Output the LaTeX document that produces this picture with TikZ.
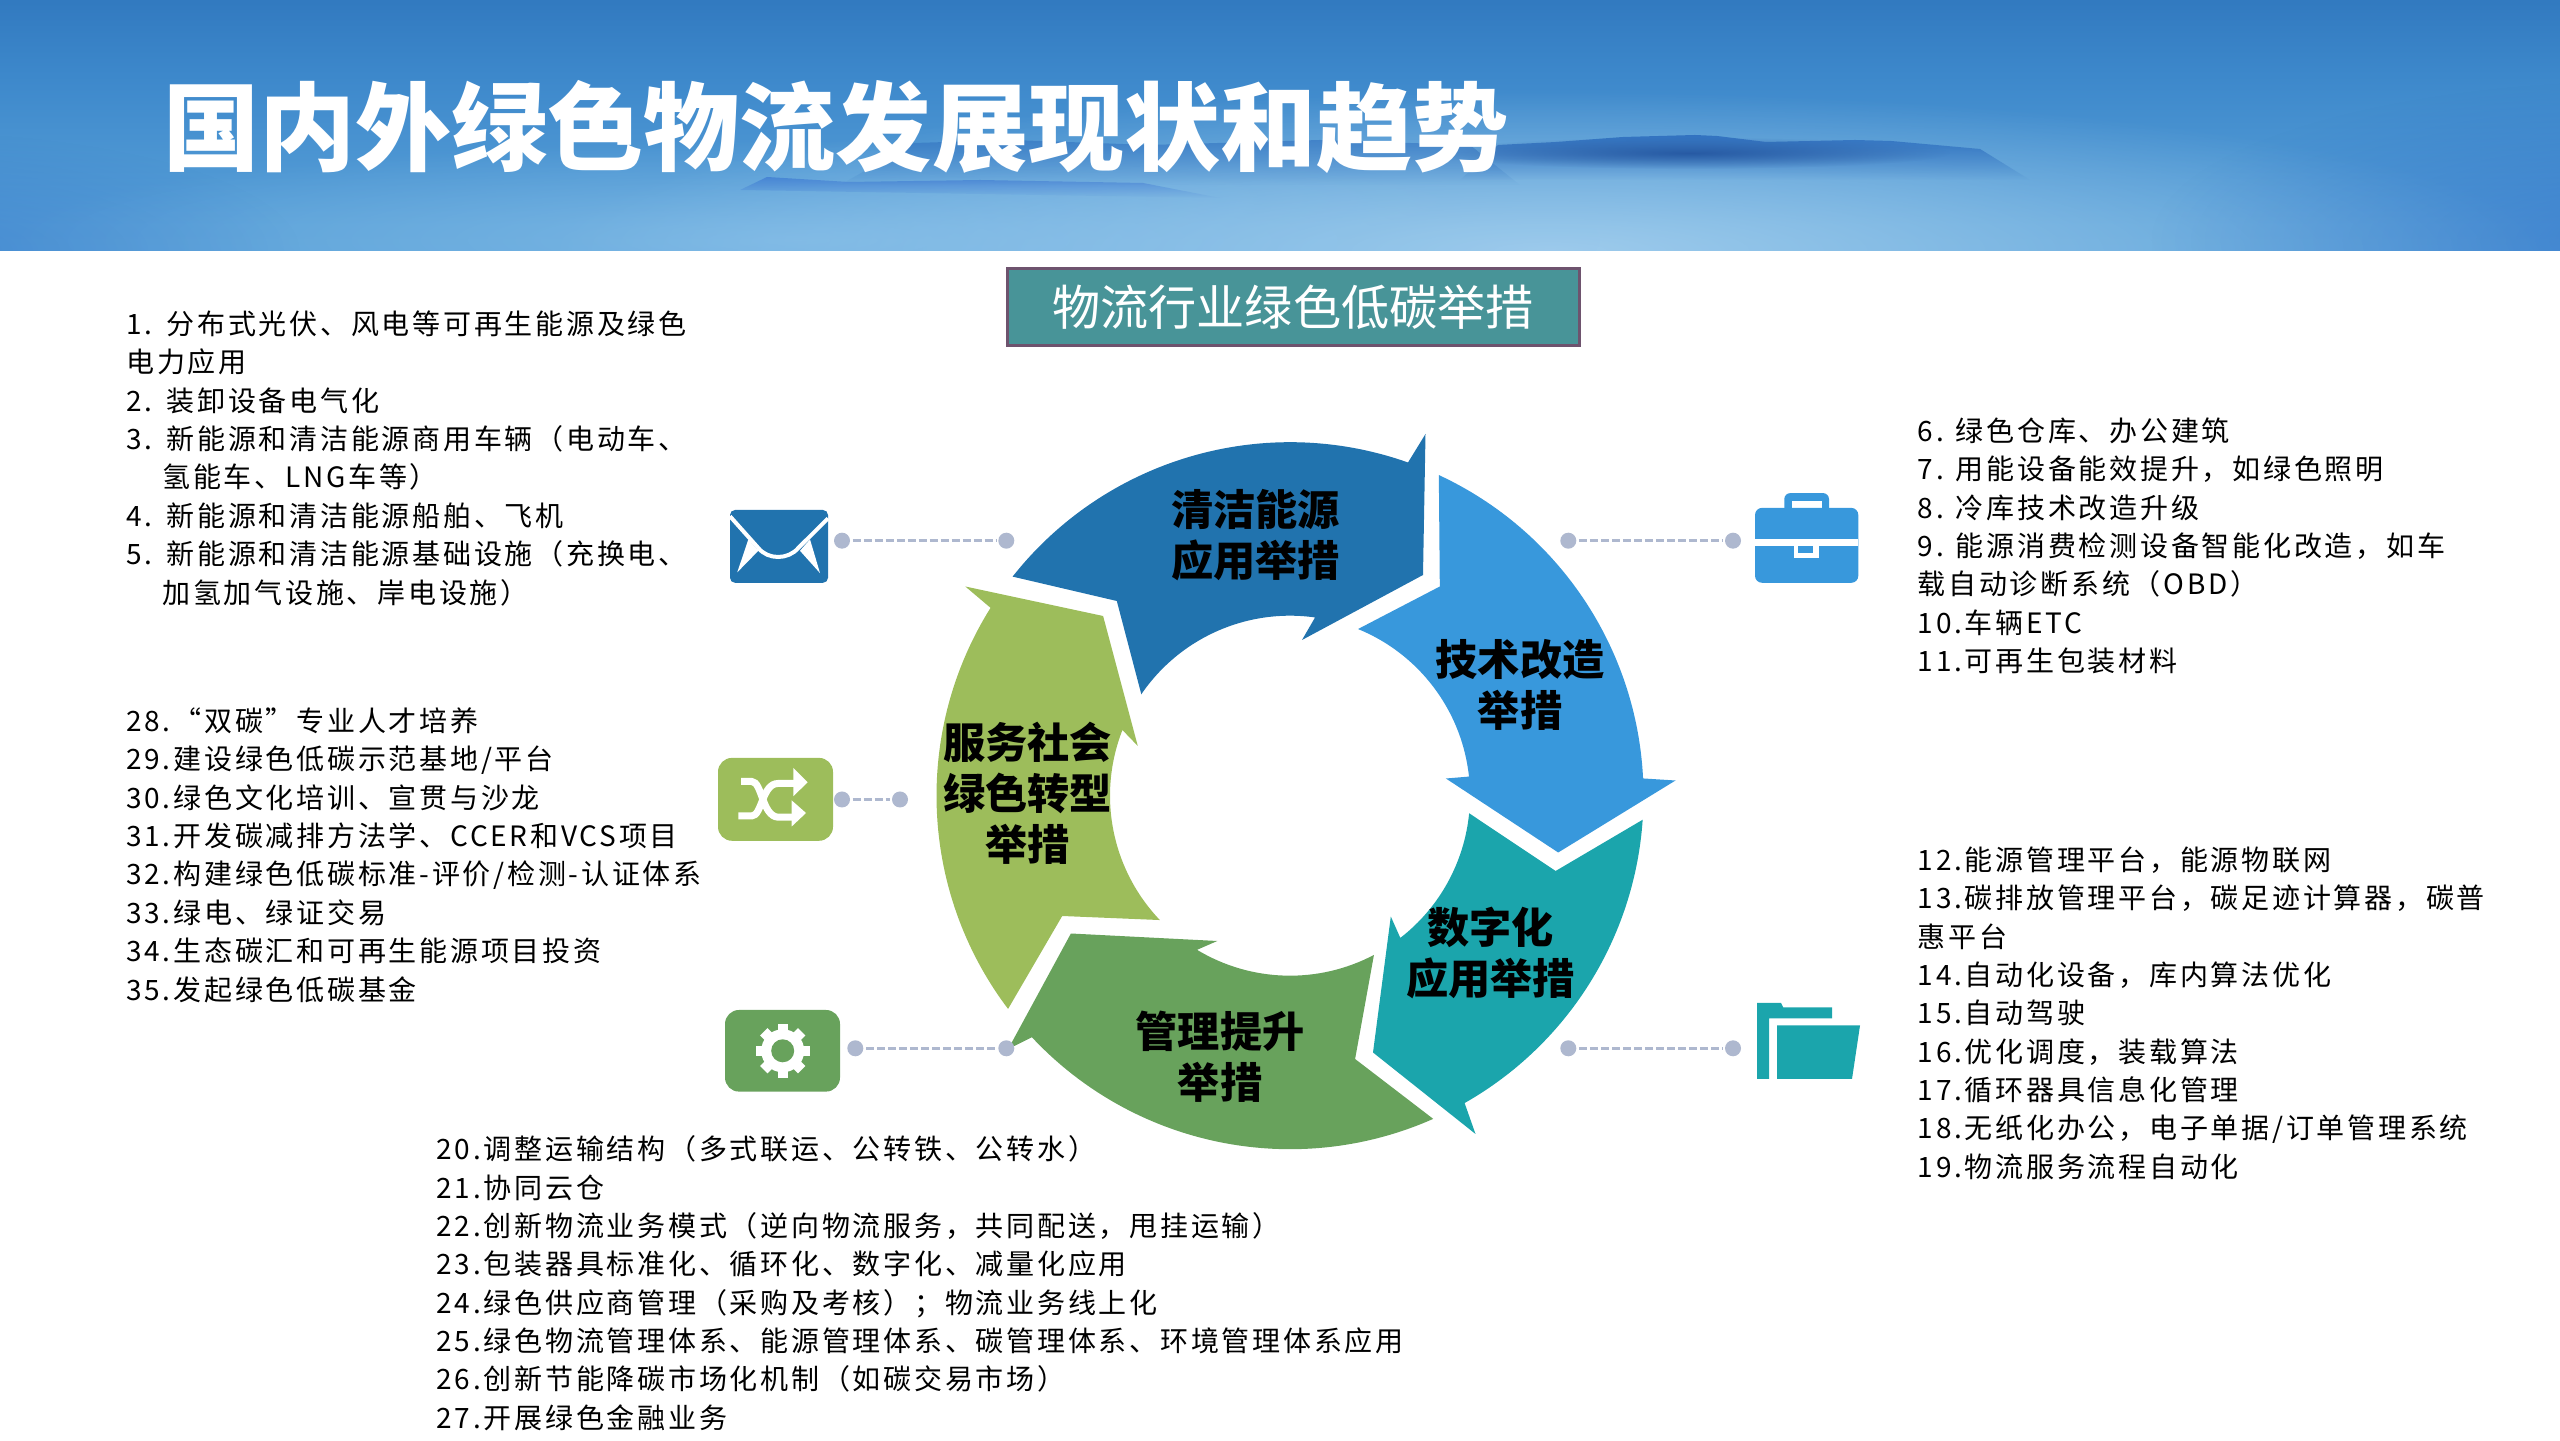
\documentclass[tikz,border=0pt]{standalone}
\usepackage{fontspec}
\setmainfont{Noto Sans CJK SC}
\newfontfamily\listfam[LetterSpace=9.8]{Noto Sans CJK SC}
\usetikzlibrary{calc,fadings}
\definecolor{ringdeep}{HTML}{2173AE}
\definecolor{ringsky}{HTML}{3898DC}
\definecolor{ringteal}{HTML}{1BA5AC}
\definecolor{ringmoss}{HTML}{68A25C}
\definecolor{ringlime}{HTML}{9DBD5B}
\definecolor{dotgrey}{HTML}{AEB8CF}
\definecolor{ba0}{HTML}{1B5AA9}
\definecolor{ba1}{HTML}{2A70B8}
\definecolor{ba2}{HTML}{3D88CB}
\definecolor{ba3}{HTML}{58A0D8}
\definecolor{ba4}{HTML}{5FA6DC}
\definecolor{hillblue}{HTML}{3070BF}
\definecolor{hillcore}{HTML}{1F4F9A}
\pgfdeclareverticalshading{bandsky}{100bp}{
	color(0bp)=(ba4); color(30bp)=(ba3); color(60bp)=(ba2); color(85bp)=(ba1); color(100bp)=(ba0)}
\tikzfading[name=softblob, inner color=transparent!0, outer color=transparent!100]
\tikzset{
	listblock/.style={align=left, inner sep=0pt, anchor=north west, text=black, font=\listfam\fontsize{7.97}{10.92}\selectfont},
	ringlabel/.style={align=center, inner sep=0pt, text=black, font=\bfseries\fontsize{12}{14.5}\selectfont},
	linkdot/.style={circle, fill=dotgrey, inner sep=0pt, minimum size=0.16cm, outer sep=0.025cm},
	linkdash/.style={draw=dotgrey, line width=0.28mm, dash pattern=on 0.085cm off 0.025cm},
}
\def\hangline{\hspace*{0.36cm}}
\def\numgap{\hspace*{0.05cm}\ }

\begin{document}
\begin{tikzpicture}
	\useasboundingbox (0, 0) rectangle (25.6, 14.4);
	%%%%% BANNER %%%%%

	\begin{scope}
		\clip (0, 11.89) rectangle (25.6, 14.4);
		\shade[shading=bandsky] (0, 11.89) rectangle (25.6, 14.4);
		\fill[color=white!60!ringsky, opacity=0.8, path fading=softblob] (15.5, 11.89) ellipse (10 and 1.6);
		\fill[color=white!45!ringsky, opacity=0.6, path fading=softblob] (8, 12) ellipse (8 and 1.0);
		\fill[color=ringdeep!75!blue, opacity=0.4, path fading=softblob] (26.5, 12) ellipse (5 and 1.6);
		\fill[color=ringdeep!75!blue, opacity=0.3, path fading=softblob] (-1, 11.89) ellipse (4 and 1.2);
		\fill[color=hillblue, opacity=0.6, path fading=south] (8.4, 12.55) -- (9.14, 12.97) -- (10.12, 13) -- (11.5, 12.95) -- (13.2, 13) -- (14.7, 12.95) -- (15.2, 12.55) -- cycle;
		\fill[color=hillblue, opacity=0.95, path fading=south] (14.6, 12.6) -- (14.98, 12.95) -- (15.56, 12.98) -- (16.23, 13.03) -- (16.95, 13.05) -- (17.17, 13.04) -- (17.66, 12.98) -- (18.55, 13) -- (18.91, 12.99) -- (19.8, 12.91) -- (20.3, 12.6) -- cycle;
		\fill[color=hillcore, opacity=0.8, path fading=softblob] (16.9, 12.87) ellipse (2.6 and 0.16);
		\fill[color=blue!35!ringdeep, opacity=0.35, path fading=south] (7.4, 12.5) -- (7.67, 12.63) -- (8.49, 12.58) -- (9.8, 12.6) -- (11.43, 12.57) -- (12.2, 12.42) -- cycle;
	\end{scope}

	\node[inner sep=0pt, text=white, font=\bfseries\fontsize{27.35}{30}\selectfont] (pagetitle) at (8.36, 13.13) {国内外绿色物流发展现状和趋势};
	\node[draw=black!40!violet!35!gray, line width=0.3mm, fill=ringteal!55!gray, minimum width=5.72cm, minimum height=0.77cm, inner sep=0pt, text=white, font=\fontsize{13.7}{16}\selectfont] (headline) at (12.93, 11.33) {物流行业绿色低碳举措};

	%%%%% RING %%%%%

	\coordinate (hub) at (12.9, 6.443);

	\fill[ringdeep] ($(hub)+(141.7:3.535)$) arc (141.7:70.5:3.535) -- (14.255, 10.06) -- (14.23, 8.65) -- (13.02, 8) -- ($(hub)+(82:1.8)$) arc (82:145.7:1.8) -- (11.168, 8.39) -- cycle;
	\fill[ringsky] ($(hub)+(65.1:3.535)$) arc (65.1:2.8:3.535) -- (16.755, 6.595) -- (15.582, 5.875) -- (14.459, 6.615) -- ($(hub)+(6.1:1.8)$) arc (6.1:67.8:1.8) -- (14.398, 8.535) -- cycle;
	\fill[ringteal] ($(hub)+(-5.6:1.8)$) -- (15.556, 5.69) -- ($(hub)+(-3.9:3.535)$) arc (-3.9:-60.4:3.535) -- (14.755, 3.06) -- (13.73, 3.875) -- (13.908, 5.235) -- ($(hub)+(-52.2:1.8)$) arc (-52.2:-5.6:1.8) -- cycle;
	\fill[ringmoss] ($(hub)+(-62.2:1.8)$) -- (13.551, 3.81) -- ($(hub)+(-66.1:3.535)$) arc (-66.1:-136.9:3.535) -- (10.082, 3.91) -- (10.709, 5.065) -- (12.173, 4.99) -- ($(hub)+(-121.1:1.8)$) arc (-121.1:-62.2:1.8) -- cycle;
	\fill[ringlime] ($(hub)+(223.7:1.8)$) -- (10.622, 5.24) -- ($(hub)+(217.1:3.535)$) arc (217.1:147.9:3.535) -- (9.653, 8.535) -- (11.031, 8.24) -- (11.378, 6.94) -- ($(hub)+(158.6:1.8)$) arc (158.6:223.7:1.8) -- cycle;

	\node[ringlabel] (labelclean) at (12.556, 9.05) {清洁能源\\应用举措};
	\node[ringlabel] (labeltech) at (15.2, 7.55) {技术改造\\举措};
	\node[ringlabel] (labeldigit) at (14.908, 4.87) {数字化\\应用举措};
	\node[ringlabel] (labelmanage) at (12.2, 3.83) {管理提升\\举措};
	\node[ringlabel] (labelsociety) at (10.276, 6.47) {服务社会\\绿色转型\\举措};

	%%%%% LINKS %%%%%

	\node[linkdot] (mailicon) at (8.42, 8.993) {};
	\node[linkdot] (mailring) at (10.063, 8.993) {};
	\draw[linkdash] (mailicon) -- (mailring);
	\node[linkdot] (shuffleicon) at (8.42, 6.405) {};
	\node[linkdot] (shufflering) at (9, 6.405) {};
	\draw[linkdash] (shuffleicon) -- (shufflering);
	\node[linkdot] (gearicon) at (8.553, 3.917) {};
	\node[linkdot] (gearring) at (10.063, 3.917) {};
	\draw[linkdash] (gearicon) -- (gearring);
	\node[linkdot] (casering) at (15.683, 8.993) {};
	\node[linkdot] (caseicon) at (17.33, 8.993) {};
	\draw[linkdash] (casering) -- (caseicon);
	\node[linkdot] (folderring) at (15.683, 3.917) {};
	\node[linkdot] (foldericon) at (17.33, 3.917) {};
	\draw[linkdash] (folderring) -- (foldericon);

	%%%%% ICONS %%%%%

	\fill[ringdeep, rounded corners=0.05cm] (7.3, 8.572) rectangle (8.28, 9.3);
	\draw[white, line width=0.4mm] (7.3, 9.237) -- (7.583, 8.92) .. controls (7.68, 8.8) and (7.88, 8.8) .. (7.983, 8.92) -- (8.28, 9.216);
	\fill[white] (7.483, 9.006) -- (7.373, 8.677) -- (7.583, 8.892) -- cycle;
	\fill[white] (8.1, 9.006) -- (8.2, 8.669) -- (8, 8.892) -- cycle;

	\fill[ringlime, rounded corners=0.14cm] (7.18, 5.992) rectangle (8.33, 6.821);
	\draw[white, line width=0.7mm] (7.41, 6.585) -- (7.517, 6.585) .. controls (7.62, 6.585) and (7.62, 6.24) .. (7.78, 6.228) -- (7.93, 6.228);
	\draw[white, line width=0.7mm] (7.383, 6.24) -- (7.517, 6.24) .. controls (7.62, 6.24) and (7.62, 6.565) .. (7.78, 6.565) -- (7.94, 6.565);
	\fill[white] (7.917, 6.396) -- (8.06, 6.27) -- (7.917, 6.135) -- cycle;
	\fill[white] (7.933, 6.72) -- (8.077, 6.577) -- (7.933, 6.438) -- cycle;

	\fill[ringmoss, rounded corners=0.14cm] (7.25, 3.484) rectangle (8.4, 4.3);
	\foreach \a in {0,45,...,315} {
		\fill[white, rotate around={\a:(7.827, 3.892)}] (7.775, 3.892) rectangle (7.879, 4.16);
	}
	\fill[white] (7.827, 3.892) circle (0.215);
	\fill[ringmoss] (7.827, 3.892) circle (0.115);

	\fill[ringsky, rounded corners=0.06cm] (17.843, 9.2) rectangle (18.29, 9.469);
	\fill[white] (17.917, 9.321) rectangle (18.217, 9.393);
	\fill[ringsky, rounded corners=0.07cm] (17.55, 8.572) rectangle (18.583, 9.321);
	\fill[white] (17.55, 8.942) rectangle (18.583, 9.006);
	\fill[white] (17.937, 8.816) rectangle (18.193, 8.942);
	\fill[ringsky] (17.98, 8.867) rectangle (18.133, 8.942);

	\fill[ringteal] (17.57, 4.372) -- (17.81, 4.372) -- (17.833, 4.325) -- (18.32, 4.325) -- (18.32, 4.216) -- (17.69, 4.216) -- (17.69, 3.61) -- (17.57, 3.61) -- cycle;
	\fill[ringteal] (17.77, 4.145) -- (18.6, 4.145) -- (18.52, 3.61) -- (17.77, 3.61) -- cycle;

	%%%%% LISTS %%%%%

	\node[listblock] (listclean) at (1.257, 11.30) {1.\numgap 分布式光伏、风电等可再生能源及绿色\\电力应用\\2.\numgap 装卸设备电气化\\3.\numgap 新能源和清洁能源商用车辆（电动车、\\\hangline 氢能车、LNG车等）\\4.\numgap 新能源和清洁能源船舶、飞机\\5.\numgap 新能源和清洁能源基础设施（充换电、\\\hangline 加氢加气设施、岸电设施）};

	\node[listblock] (listsociety) at (1.257, 7.33) {28.“双碳”专业人才培养\\29.建设绿色低碳示范基地/平台\\30.绿色文化培训、宣贯与沙龙\\31.开发碳减排方法学、CCER和VCS项目\\32.构建绿色低碳标准-评价/检测-认证体系\\33.绿电、绿证交易\\34.生态碳汇和可再生能源项目投资\\35.发起绿色低碳基金};

	\node[listblock] (listmanage) at (4.36, 3.05) {20.调整运输结构（多式联运、公转铁、公转水）\\21.协同云仓\\22.创新物流业务模式（逆向物流服务，共同配送，甩挂运输）\\23.包装器具标准化、循环化、数字化、减量化应用\\24.绿色供应商管理（采购及考核）；物流业务线上化\\25.绿色物流管理体系、能源管理体系、碳管理体系、环境管理体系应用\\26.创新节能降碳市场化机制（如碳交易市场）\\27.开展绿色金融业务};

	\node[listblock] (listtech) at (19.17, 10.23) {6. 绿色仓库、办公建筑\\7. 用能设备能效提升，如绿色照明\\8. 冷库技术改造升级\\9. 能源消费检测设备智能化改造，如车\\载自动诊断系统（OBD）\\10.车辆ETC\\11.可再生包装材料};

	\node[listblock] (listdigit) at (19.17, 5.94) {12.能源管理平台，能源物联网\\13.碳排放管理平台，碳足迹计算器，碳普\\惠平台\\14.自动化设备，库内算法优化\\15.自动驾驶\\16.优化调度，装载算法\\17.循环器具信息化管理\\18.无纸化办公，电子单据/订单管理系统\\19.物流服务流程自动化};

	%%%%% END %%%%%
\end{tikzpicture}
\end{document}
